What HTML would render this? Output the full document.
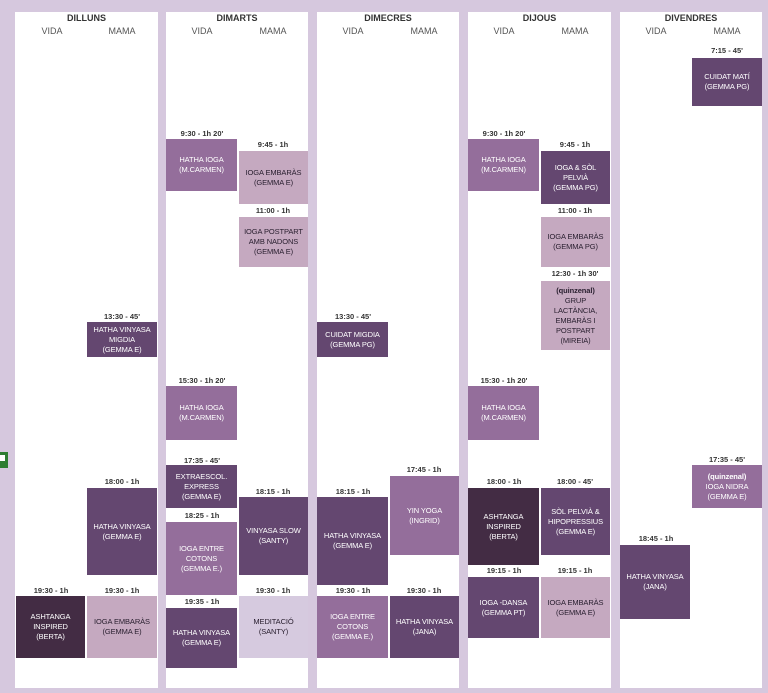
<!DOCTYPE html>
<html><head><meta charset="utf-8"><style>
body{margin:0;width:768px;height:693px;background:#d6c8de;position:relative;overflow:hidden;font-family:"Liberation Sans",sans-serif}
.col{position:absolute;top:12px;height:676px;background:#fff}
.day{position:absolute;top:13px;font-size:9px;font-weight:bold;color:#333;text-align:center}
.sub{position:absolute;top:26px;font-size:9px;color:#555;text-align:center;width:70px}
.b{position:absolute;display:flex;align-items:center;justify-content:center;text-align:center;font-size:7.5px;line-height:10px;box-sizing:border-box;padding:0 1px;white-space:nowrap;letter-spacing:-0.1px}
.lp{background:#946e9b;color:#fff}.d{background:#644770;color:#fff}.vd{background:#432c44;color:#fff}
.p{background:#c5a9c0;color:#2a2030}.vl{background:#d6cadf;color:#2a2030}
.l{position:absolute;font-size:7.5px;font-weight:bold;color:#333;text-align:center;width:72px}
</style></head><body>
<div style="position:absolute;left:0;top:452px;width:8px;height:16px;background:#2e7d32"></div>
<div style="position:absolute;left:0;top:455px;width:5px;height:6px;background:#fff"></div>

<div class="col" style="left:15px;width:143px"></div>
<div class="col" style="left:166px;width:142px"></div>
<div class="col" style="left:317px;width:142px"></div>
<div class="col" style="left:468px;width:143px"></div>
<div class="col" style="left:620px;width:142px"></div>

<div class="day" style="left:15px;width:143px">DILLUNS</div>
<div class="day" style="left:166px;width:142px">DIMARTS</div>
<div class="day" style="left:317px;width:142px">DIMECRES</div>
<div class="day" style="left:468px;width:143px">DIJOUS</div>
<div class="day" style="left:620px;width:142px">DIVENDRES</div>

<div class="sub" style="left:17px">VIDA</div><div class="sub" style="left:87px">MAMA</div>
<div class="sub" style="left:167px">VIDA</div><div class="sub" style="left:238px">MAMA</div>
<div class="sub" style="left:318px">VIDA</div><div class="sub" style="left:389px">MAMA</div>
<div class="sub" style="left:469px">VIDA</div><div class="sub" style="left:540px">MAMA</div>
<div class="sub" style="left:621px">VIDA</div><div class="sub" style="left:692px">MAMA</div>

<!-- Dilluns -->
<div class="l" style="left:86px;top:312px">13:30 - 45'</div>
<div class="b d" style="left:87px;top:322px;width:70px;height:35px">HATHA VINYASA<br>MIGDIA<br>(GEMMA E)</div>
<div class="l" style="left:86px;top:477px">18:00 - 1h</div>
<div class="b d" style="left:87px;top:488px;width:70px;height:87px">HATHA VINYASA<br>(GEMMA E)</div>
<div class="l" style="left:15px;top:586px">19:30 - 1h</div>
<div class="b vd" style="left:16px;top:596px;width:69px;height:62px">ASHTANGA<br>INSPIRED<br>(BERTA)</div>
<div class="l" style="left:86px;top:586px">19:30 - 1h</div>
<div class="b p" style="left:87px;top:596px;width:70px;height:62px">IOGA EMBARÀS<br>(GEMMA E)</div>

<!-- Dimarts -->
<div class="l" style="left:166px;top:129px">9:30 - 1h 20'</div>
<div class="b lp" style="left:166px;top:139px;width:71px;height:52px">HATHA IOGA<br>(M.CARMEN)</div>
<div class="l" style="left:237px;top:140px">9:45 - 1h</div>
<div class="b p" style="left:239px;top:151px;width:69px;height:53px">IOGA EMBARÀS<br>(GEMMA E)</div>
<div class="l" style="left:237px;top:206px">11:00 - 1h</div>
<div class="b p" style="left:239px;top:217px;width:69px;height:50px">IOGA POSTPART<br>AMB NADONS<br>(GEMMA E)</div>
<div class="l" style="left:166px;top:376px">15:30 - 1h 20'</div>
<div class="b lp" style="left:166px;top:386px;width:71px;height:54px">HATHA IOGA<br>(M.CARMEN)</div>
<div class="l" style="left:166px;top:456px">17:35 - 45'</div>
<div class="b d" style="left:166px;top:465px;width:71px;height:43px">EXTRAESCOL.<br>EXPRESS<br>(GEMMA E)</div>
<div class="l" style="left:166px;top:511px">18:25 - 1h</div>
<div class="b lp" style="left:166px;top:522px;width:71px;height:73px">IOGA ENTRE<br>COTONS<br>(GEMMA E.)</div>
<div class="l" style="left:237px;top:487px">18:15 - 1h</div>
<div class="b d" style="left:239px;top:497px;width:69px;height:78px">VINYASA SLOW<br>(SANTY)</div>
<div class="l" style="left:237px;top:586px">19:30 - 1h</div>
<div class="b vl" style="left:239px;top:596px;width:69px;height:62px">MEDITACIÓ<br>(SANTY)</div>
<div class="l" style="left:166px;top:597px">19:35 - 1h</div>
<div class="b d" style="left:166px;top:608px;width:71px;height:60px">HATHA VINYASA<br>(GEMMA E)</div>

<!-- Dimecres -->
<div class="l" style="left:317px;top:312px">13:30 - 45'</div>
<div class="b d" style="left:317px;top:322px;width:71px;height:35px">CUIDAT MIGDIA<br>(GEMMA PG)</div>
<div class="l" style="left:388px;top:465px">17:45 - 1h</div>
<div class="b lp" style="left:390px;top:476px;width:69px;height:79px">YIN YOGA<br>(INGRID)</div>
<div class="l" style="left:317px;top:487px">18:15 - 1h</div>
<div class="b d" style="left:317px;top:497px;width:71px;height:88px">HATHA VINYASA<br>(GEMMA E)</div>
<div class="l" style="left:317px;top:586px">19:30 - 1h</div>
<div class="b lp" style="left:317px;top:596px;width:71px;height:62px">IOGA ENTRE<br>COTONS<br>(GEMMA E.)</div>
<div class="l" style="left:388px;top:586px">19:30 - 1h</div>
<div class="b d" style="left:390px;top:596px;width:69px;height:62px">HATHA VINYASA<br>(JANA)</div>

<!-- Dijous -->
<div class="l" style="left:468px;top:129px">9:30 - 1h 20'</div>
<div class="b lp" style="left:468px;top:139px;width:71px;height:52px">HATHA IOGA<br>(M.CARMEN)</div>
<div class="l" style="left:539px;top:140px">9:45 - 1h</div>
<div class="b d" style="left:541px;top:151px;width:69px;height:53px">IOGA &amp; SÒL<br>PELVIÀ<br>(GEMMA PG)</div>
<div class="l" style="left:539px;top:206px">11:00 - 1h</div>
<div class="b p" style="left:541px;top:217px;width:69px;height:50px">IOGA EMBARÀS<br>(GEMMA PG)</div>
<div class="l" style="left:539px;top:269px">12:30 - 1h 30'</div>
<div class="b p" style="left:541px;top:281px;width:69px;height:69px"><span><b>(quinzenal)</b><br>GRUP<br>LACTÀNCIA,<br>EMBARÀS I<br>POSTPART<br>(MIREIA)</span></div>
<div class="l" style="left:468px;top:376px">15:30 - 1h 20'</div>
<div class="b lp" style="left:468px;top:386px;width:71px;height:54px">HATHA IOGA<br>(M.CARMEN)</div>
<div class="l" style="left:468px;top:477px">18:00 - 1h</div>
<div class="b vd" style="left:468px;top:488px;width:71px;height:77px">ASHTANGA<br>INSPIRED<br>(BERTA)</div>
<div class="l" style="left:539px;top:477px">18:00 - 45'</div>
<div class="b d" style="left:541px;top:488px;width:69px;height:67px">SÒL PELVIÀ &amp;<br>HIPOPRESSIUS<br>(GEMMA E)</div>
<div class="l" style="left:468px;top:566px">19:15 - 1h</div>
<div class="b d" style="left:468px;top:577px;width:71px;height:61px">IOGA -DANSA<br>(GEMMA PT)</div>
<div class="l" style="left:539px;top:566px">19:15 - 1h</div>
<div class="b p" style="left:541px;top:577px;width:69px;height:61px">IOGA EMBARÀS<br>(GEMMA E)</div>

<!-- Divendres -->
<div class="l" style="left:691px;top:46px">7:15 - 45'</div>
<div class="b d" style="left:692px;top:58px;width:70px;height:48px">CUIDAT MATÍ<br>(GEMMA PG)</div>
<div class="l" style="left:691px;top:455px">17:35 - 45'</div>
<div class="b lp" style="left:692px;top:465px;width:70px;height:43px"><span><b>(quinzenal)</b><br>IOGA NIDRA<br>(GEMMA E)</span></div>
<div class="l" style="left:620px;top:534px">18:45 - 1h</div>
<div class="b d" style="left:620px;top:545px;width:70px;height:74px">HATHA VINYASA<br>(JANA)</div>
</body></html>
